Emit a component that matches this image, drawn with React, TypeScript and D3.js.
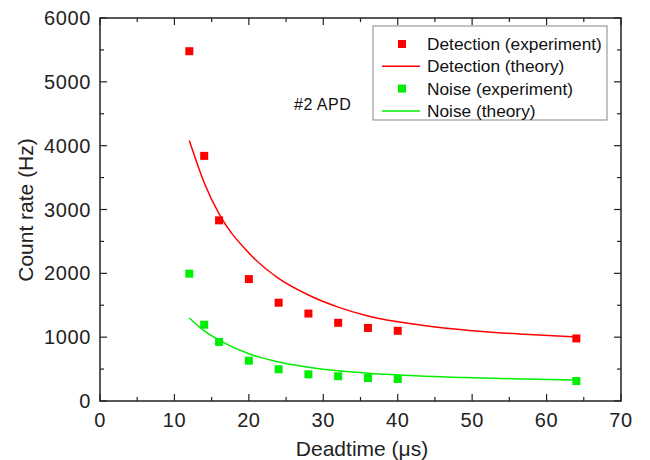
import React from 'react';
import * as d3 from 'd3';

// Экспериментальные точки
const deadtimes = [12, 14, 16, 20, 24, 28, 32, 36, 40, 64];
const detectionExp = [5480, 3840, 2830, 1910, 1540, 1370, 1225, 1145, 1100, 980];
const noiseExp = [1995, 1195, 925, 632, 497, 418, 388, 360, 345, 313];

// Теоретические кривые
const theoryX = [12, 14, 16, 20, 24, 28, 32, 36, 43, 50, 57, 64];
const detectionTheory = [4080, 3420, 2930, 2320, 1920, 1660, 1470, 1330, 1190, 1100, 1045, 1005];
const noiseTheory = [1300, 1100, 955, 740, 612, 530, 472, 435, 392, 365, 345, 330];

const xTicks = [0, 10, 20, 30, 40, 50, 60, 70];
const yTicks = [0, 1000, 2000, 3000, 4000, 5000, 6000];

const legendItems = [
  { label: 'Detection (experiment)', color: '#ff0000', kind: 'square' },
  { label: 'Detection (theory)', color: '#ff0000', kind: 'line' },
  { label: 'Noise (experiment)', color: '#00ee00', kind: 'square' },
  { label: 'Noise (theory)', color: '#00ee00', kind: 'line' },
];

const W = 650, H = 460;
const m = { left: 100, right: 621, top: 18, bottom: 401 };
const font = 'Liberation Sans, Arial, sans-serif';
const axisColor = '#222';

export default function App() {
  const x = d3.scaleLinear().domain([0, 70]).range([m.left, m.right]);
  const y = d3.scaleLinear().domain([0, 6000]).range([m.bottom, m.top]);

  const line = d3.line<number>()
    .x((_, i) => x(theoryX[i]))
    .y(d => y(d))
    .curve(d3.curveMonotoneX);

  const xMinor = d3.range(5, 70, 10);
  const yMinor = d3.range(500, 6000, 1000);
  const sq = 8;

  return (
    <svg width={W} height={H} style={{ position: 'absolute', left: 0, top: 0 }} fontFamily={font}>
      <rect width={W} height={H} fill="#fff" />

      {/* рамка */}
      <rect x={m.left} y={m.top} width={m.right - m.left} height={m.bottom - m.top}
        fill="none" stroke={axisColor} strokeWidth={1.5} />

      {/* тики по X (внутрь) снизу и сверху */}
      {xTicks.map(t => (
        <g key={'x' + t}>
          <line x1={x(t)} x2={x(t)} y1={m.bottom} y2={m.bottom - 7} stroke={axisColor} strokeWidth={1.2} />
          <line x1={x(t)} x2={x(t)} y1={m.top} y2={m.top + 7} stroke={axisColor} strokeWidth={1.2} />
          <text x={x(t)} y={427} fontSize={20} letterSpacing={0.6} textAnchor="middle" fill="#222">{t}</text>
        </g>
      ))}
      {xMinor.map(t => (
        <g key={'xm' + t}>
          <line x1={x(t)} x2={x(t)} y1={m.bottom} y2={m.bottom - 4} stroke={axisColor} strokeWidth={1.2} />
          <line x1={x(t)} x2={x(t)} y1={m.top} y2={m.top + 4} stroke={axisColor} strokeWidth={1.2} />
        </g>
      ))}

      {/* тики по Y */}
      {yTicks.map(t => (
        <g key={'y' + t}>
          <line x1={m.left} x2={m.left + 7} y1={y(t)} y2={y(t)} stroke={axisColor} strokeWidth={1.2} />
          <line x1={m.right} x2={m.right - 7} y1={y(t)} y2={y(t)} stroke={axisColor} strokeWidth={1.2} />
          <text x={91} y={y(t) + 7} fontSize={20} letterSpacing={0.6} textAnchor="end" fill="#222">{t}</text>
        </g>
      ))}
      {yMinor.map(t => (
        <g key={'ym' + t}>
          <line x1={m.left} x2={m.left + 4} y1={y(t)} y2={y(t)} stroke={axisColor} strokeWidth={1.2} />
          <line x1={m.right} x2={m.right - 4} y1={y(t)} y2={y(t)} stroke={axisColor} strokeWidth={1.2} />
        </g>
      ))}

      {/* подписи осей */}
      <text x={362} y={456} fontSize={21} textAnchor="middle" fill="#222">Deadtime (μs)</text>
      <text transform={`translate(33,210) rotate(-90)`} fontSize={21} textAnchor="middle" fill="#222">Count rate (Hz)</text>

      {/* теория */}
      <path d={line(detectionTheory) ?? ''} fill="none" stroke="#ff0000" strokeWidth={1.5} />
      <path d={line(noiseTheory) ?? ''} fill="none" stroke="#00ee00" strokeWidth={1.5} />

      {/* эксперимент */}
      {deadtimes.map((d, i) => (
        <g key={'p' + i}>
          <rect x={x(d) - sq / 2} y={y(detectionExp[i]) - sq / 2} width={sq} height={sq} fill="#ff0000" />
          <rect x={x(d) - sq / 2} y={y(noiseExp[i]) - sq / 2} width={sq} height={sq} fill="#00ee00" />
        </g>
      ))}

      <text x={294} y={110} fontSize={16} letterSpacing={0.5} fill="#111">#2 APD</text>

      {/* легенда */}
      <rect x={373} y={26} width={234} height={94} fill="#fff" stroke="#888" strokeWidth={1} />
      {legendItems.map((it, i) => {
        const cy = 44 + i * 22.3;
        return (
          <g key={it.label}>
            {it.kind === 'square'
              ? <rect x={402 - 4} y={cy - 4} width={8} height={8} fill={it.color} />
              : <line x1={382} x2={420} y1={cy} y2={cy} stroke={it.color} strokeWidth={1.5} />}
            <text x={427} y={cy + 6} fontSize={17.3} fill="#111">{it.label}</text>
          </g>
        );
      })}
    </svg>
  );
}
